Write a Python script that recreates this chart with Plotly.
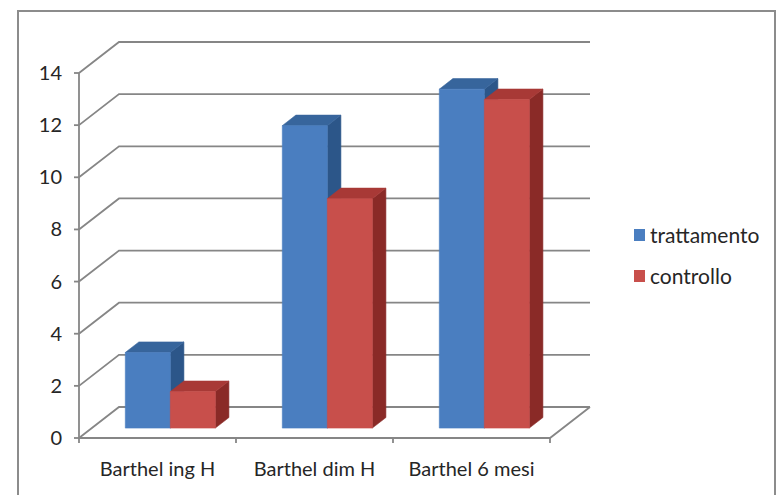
import plotly.graph_objects as go

# ---- data -------------------------------------------------------------
categories = ["Barthel ing H", "Barthel dim H", "Barthel 6 mesi"]
trattamento = [2.9, 11.6, 13.0]
controllo = [1.4, 8.8, 12.6]
y_ticks = [0, 2, 4, 6, 8, 10, 12, 14]
series_names = ["trattamento", "controllo"]

# ---- geometry of the pseudo-3D (oblique) projection --------------------
W, H = 778, 495
PX_X = 157.0            # pixels per category slot
PX_Y = 26.07            # pixels per value unit
FLOOR_LEFT_PX = 79      # front-left corner of the floor
FLOOR_Y_PX = 438        # front edge of the floor
DEPTH_X = 40 / PX_X     # full depth, horizontal component (data units)
DEPTH_Y = 31 / PX_Y     # full depth, vertical component (data units)
BAR_W = 45 / PX_X       # width of one bar
BAR_Z = 0.32            # depth position of the bar front faces
BAR_D = 0.34            # depth of a bar (fraction of full depth)
PAD_L, PAD_R, PAD_B, PAD_T = 8, 6, 8, 4

Y_MAX = y_ticks[-1]
x_lo = -0.5 - PAD_L / PX_X
x_hi = len(categories) - 0.5 + DEPTH_X + PAD_R / PX_X
y_lo = -PAD_B / PX_Y
y_hi = Y_MAX + DEPTH_Y + PAD_T / PX_Y

plot_left = FLOOR_LEFT_PX - PAD_L
plot_right = plot_left + (x_hi - x_lo) * PX_X
plot_bottom = FLOOR_Y_PX + PAD_B
plot_top = FLOOR_Y_PX - y_hi * PX_Y


def paper_x(px):
    return (px - plot_left) / (plot_right - plot_left)


def paper_y(py):
    return (plot_bottom - py) / (plot_bottom - plot_top)


GRID = "#868686"
TEXT = "#262626"
FONT = "Lato, Carlito, Calibri, 'Open Sans', sans-serif"

colors = {
    "trattamento": {"front": "#4a7ec0", "side": "#2c5689", "top": "#37659c"},
    "controllo": {"front": "#c84f4b", "side": "#8a2a27", "top": "#a83936"},
}

fig = go.Figure()


def add_line(xs, ys, width=1.8):
    fig.add_trace(go.Scatter(x=xs, y=ys, mode="lines",
                             line=dict(color=GRID, width=width),
                             hoverinfo="skip", showlegend=False))


# walls: left-wall diagonals and back-wall horizontals for each tick
gx, gy = [], []
x_left = -0.5
x_right = len(categories) - 0.5
for v in y_ticks:
    gx += [x_left, x_left + DEPTH_X, x_right + DEPTH_X, None]
    gy += [v, v + DEPTH_Y, v + DEPTH_Y, None]
add_line(gx, gy)

# front vertical axis + its tick marks
ax, ay = [x_left, x_left, None], [0, Y_MAX, None]
for v in y_ticks:
    ax += [x_left, x_left - 5 / PX_X, None]
    ay += [v, v, None]
add_line(ax, ay)

# floor: front edge, right edge and category tick marks
fx = [x_left, x_right, x_right + DEPTH_X, None]
fy = [0, 0, DEPTH_Y, None]
for k in range(len(categories) + 1):
    b = k - 0.5
    fx += [b, b, None]
    fy += [0, -5 / PX_Y, None]
add_line(fx, fy)


def add_face(xs, ys, color, name=None):
    fig.add_trace(go.Scatter(x=xs + [xs[0]], y=ys + [ys[0]], mode="lines",
                             fill="toself", fillcolor=color,
                             line=dict(color=color, width=0.6),
                             hoverinfo="skip", showlegend=False,
                             name=name))


# bars: drawn category by category, blue then red, so nearer faces overlap
shift = BAR_Z * DEPTH_X
base = BAR_Z * DEPTH_Y
bdx = BAR_D * DEPTH_X
bdy = BAR_D * DEPTH_Y
for i in range(len(categories)):
    for s, (name, vals) in enumerate(zip(series_names, [trattamento, controllo])):
        xl = i + shift - BAR_W + s * BAR_W
        xr = xl + BAR_W
        top = base + vals[i]
        c = colors[name]
        add_face([xr, xr, xr + bdx, xr + bdx],
                 [base, top, top + bdy, base + bdy], c["side"], name)
        add_face([xl, xr, xr + bdx, xl + bdx],
                 [top, top, top + bdy, top + bdy], c["top"], name)
        add_face([xl, xr, xr, xl], [base, base, top, top], c["front"], name)

# legend (swatches + labels)
shapes = []
annotations = []
legend_rows = [(series_names[0], 235), (series_names[1], 276)]
for name, cy in legend_rows:
    shapes.append(dict(type="rect", xref="paper", yref="paper",
                       x0=paper_x(634), x1=paper_x(645),
                       y0=paper_y(cy + 6), y1=paper_y(cy - 6),
                       fillcolor=colors[name]["front"], line=dict(width=0)))
    annotations.append(dict(xref="paper", yref="paper",
                            x=paper_x(648), y=paper_y(cy),
                            xanchor="left", yanchor="middle",
                            text=name, showarrow=False,
                            font=dict(family=FONT, size=21, color=TEXT)))

# outer chart border
shapes.append(dict(type="rect", xref="paper", yref="paper",
                   x0=paper_x(18), x1=paper_x(775),
                   y0=paper_y(505), y1=paper_y(11),
                   line=dict(color="#8c8c8c", width=2), layer="below"))

fig.update_layout(
    width=W, height=H,
    margin=dict(l=plot_left, r=W - plot_right, t=plot_top, b=H - plot_bottom,
                pad=0),
    paper_bgcolor="white", plot_bgcolor="white",
    showlegend=False,
    shapes=shapes, annotations=annotations,
    font=dict(family=FONT, size=20, color=TEXT),
)
fig.update_xaxes(range=[x_lo, x_hi], tickvals=list(range(len(categories))),
                 ticktext=categories, ticks="", showgrid=False,
                 zeroline=False, showline=False, fixedrange=True,
                 ticklabelstandoff=9,
                 tickfont=dict(family=FONT, size=20, color=TEXT))
fig.update_yaxes(range=[y_lo, y_hi], tickvals=y_ticks, ticks="",
                 showgrid=False, zeroline=False, showline=False,
                 fixedrange=True, ticklabelstandoff=8,
                 tickfont=dict(family=FONT, size=20, color=TEXT))

fig.write_html("out.html")
